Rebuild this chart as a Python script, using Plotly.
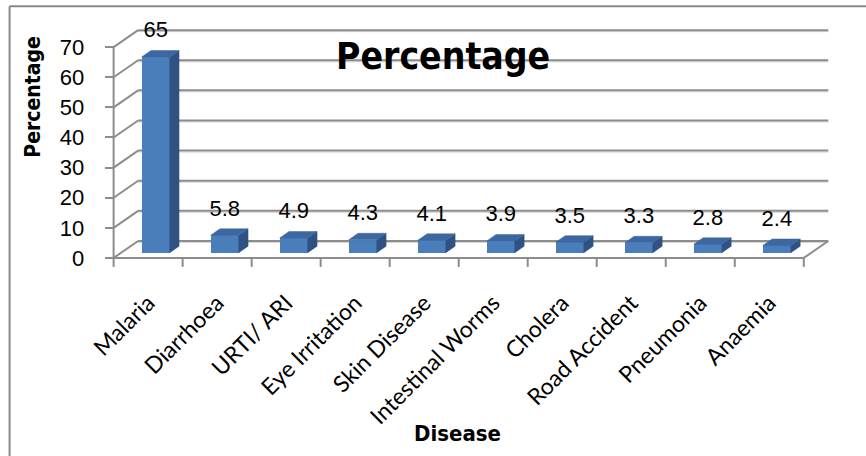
import plotly.graph_objects as go

# ---- data ----
diseases = ["Malaria", "Diarrhoea", "URTI/ ARI", "Eye Irritation", "Skin Disease",
            "Intestinal Worms", "Cholera", "Road Accident", "Pneumonia", "Anaemia"]
percentages = [65, 5.8, 4.9, 4.3, 4.1, 3.9, 3.5, 3.3, 2.8, 2.4]
y_ticks = [0, 10, 20, 30, 40, 50, 60, 70]

# ---- canvas / 3-D box geometry (pixels) ----
W, H = 866, 456
CAT_PX = 69.0        # width of one category on the front edge
UNIT_PX = 3.014      # pixels per percentage point
X0_PX, Y0_PX = 114.0, 258.0   # front-left corner of the floor
XR = (-0.4, 10.8)
YR = (-5.0, 80.0)
L = X0_PX + XR[0] * CAT_PX
R = X0_PX + XR[1] * CAT_PX
T = Y0_PX - YR[1] * UNIT_PX
B = Y0_PX - YR[0] * UNIT_PX

# depth of the box expressed in data units
DEPTH_X = 24.5 / CAT_PX
DEPTH_Y = 17.0 / UNIT_PX
BAR_W = 0.406
BAR_FRONT = 0.31     # bar front plane, fraction of box depth
BAR_DEPTH = 0.38     # bar thickness, fraction of box depth
LABEL_GAP = 25.0 / UNIT_PX

GRID = "#8c8c8c"
GRID_SHADE = "#d4d4d4"
FRONT = "#4a7ebb"
TOP = "#3d67a1"
SIDE = "#2f5282"
TITLE_FONT = "DejaVu Sans Condensed, Liberation Sans, Arial"


def px_x(px):
    return (px - L) / (R - L)


def px_y(py):
    return (B - py) / (B - T)


n = len(diseases)
centers = [i + 0.5 for i in range(n)]
bx = [c + BAR_FRONT * DEPTH_X for c in centers]
base = BAR_FRONT * DEPTH_Y
dx = BAR_DEPTH * DEPTH_X
dy = BAR_DEPTH * DEPTH_Y

fig = go.Figure()

# front faces
fig.add_trace(go.Bar(
    x=bx, y=percentages, base=[base] * n, width=BAR_W,
    marker=dict(color=FRONT, line=dict(width=0)),
    hoverinfo="skip", showlegend=False,
))

# top and side faces as filled polygons
top_x, top_y, side_x, side_y = [], [], [], []
for xc, v in zip(bx, percentages):
    xl, xr = xc - BAR_W / 2, xc + BAR_W / 2
    yt = base + v
    top_x += [xl, xr, xr + dx, xl + dx, xl, None]
    top_y += [yt, yt, yt + dy, yt + dy, yt, None]
    side_x += [xr, xr + dx, xr + dx, xr, xr, None]
    side_y += [base, base + dy, yt + dy, yt, base, None]

fig.add_trace(go.Scatter(x=side_x, y=side_y, mode="lines", fill="toself",
                         fillcolor=SIDE, line=dict(width=0.5, color=SIDE),
                         hoverinfo="skip", showlegend=False))
fig.add_trace(go.Scatter(x=top_x, y=top_y, mode="lines", fill="toself",
                         fillcolor=TOP, line=dict(width=0.5, color=TOP),
                         hoverinfo="skip", showlegend=False))

# value labels above each bar
fig.add_trace(go.Scatter(
    x=bx, y=[base + v + LABEL_GAP for v in percentages],
    mode="text", text=[f"{v:g}" for v in percentages],
    textposition="middle center",
    textfont=dict(family="Liberation Sans, Arial", size=22, color="black"),
    cliponaxis=False, hoverinfo="skip", showlegend=False,
))

# walls, floor and gridlines of the box
shapes = []
gl = dict(color=GRID, width=2)
gs = dict(color=GRID_SHADE, width=1)
shade = 1.5 / UNIT_PX
x_back0, x_back1 = DEPTH_X, n + DEPTH_X
for v in y_ticks:
    # soft shadow under each back wall gridline
    shapes.append(dict(type="line", xref="x", yref="y", layer="below",
                       x0=x_back0, x1=x_back1, y0=v + DEPTH_Y - shade,
                       y1=v + DEPTH_Y - shade, line=gs))
    # back wall gridline
    shapes.append(dict(type="line", xref="x", yref="y", layer="below",
                       x0=x_back0, x1=x_back1, y0=v + DEPTH_Y, y1=v + DEPTH_Y, line=gl))
    # side wall diagonal
    shapes.append(dict(type="line", xref="x", yref="y", layer="below",
                       x0=0, x1=DEPTH_X, y0=v, y1=v + DEPTH_Y, line=gl))
# floor front and right edges, vertical value axis line
shapes.append(dict(type="line", xref="x", yref="y", layer="below",
                   x0=0, x1=n, y0=0, y1=0, line=gl))
shapes.append(dict(type="line", xref="x", yref="y", layer="below",
                   x0=n, x1=n + DEPTH_X, y0=0, y1=DEPTH_Y, line=gl))
shapes.append(dict(type="line", xref="x", yref="y", layer="below",
                   x0=0, x1=0, y0=0, y1=y_ticks[-1], line=gl))
# category boundary ticks
for i in range(n + 1):
    shapes.append(dict(type="line", xref="x", yref="y", layer="below",
                       x0=i, x1=i, y0=0, y1=-9 / UNIT_PX, line=gl))

# chart border (top and left edges)
bd = dict(color="#8a8a8a", width=2)
shapes.append(dict(type="line", xref="paper", yref="paper",
                   x0=px_x(10), x1=px_x(W + 5), y0=px_y(6), y1=px_y(6), line=bd))
shapes.append(dict(type="line", xref="paper", yref="paper",
                   x0=px_x(10), x1=px_x(10), y0=px_y(6), y1=px_y(H + 5), line=bd))

annotations = [
    dict(text="<b>Percentage</b>", xref="paper", yref="paper",
         x=px_x(443), y=px_y(56), xanchor="center", yanchor="middle", showarrow=False,
         font=dict(family=TITLE_FONT, size=37, color="black")),
    dict(text="<b>Percentage</b>", xref="paper", yref="paper",
         x=px_x(33), y=px_y(97), xanchor="center", yanchor="middle", showarrow=False,
         textangle=-90,
         font=dict(family=TITLE_FONT, size=21, color="black")),
    dict(text="<b>Disease</b>", xref="paper", yref="paper",
         x=px_x(458), y=px_y(434), xanchor="center", yanchor="middle", showarrow=False,
         font=dict(family=TITLE_FONT, size=22, color="black")),
]

fig.update_layout(
    width=W, height=H,
    margin=dict(l=L, r=W - R, t=T, b=H - B, pad=0),
    paper_bgcolor="white", plot_bgcolor="white",
    shapes=shapes, annotations=annotations,
    showlegend=False, bargap=0,
    xaxis=dict(range=list(XR), anchor="free", position=px_y(Y0_PX),
               tickmode="array", tickvals=centers, ticktext=diseases,
               tickangle=-45, ticks="", showline=False, showgrid=False,
               zeroline=False, automargin=False, ticklabelstandoff=26,
               tickfont=dict(family="Lato, Open Sans", size=23, color="black")),
    yaxis=dict(range=list(YR), anchor="free", position=px_x(X0_PX),
               tickmode="array", tickvals=y_ticks, ticks="outside", ticklen=9,
               tickwidth=2, tickcolor=GRID, showline=False, showgrid=False,
               zeroline=False, automargin=False, ticklabelstandoff=16,
               tickfont=dict(family="Liberation Sans, Arial", size=22, color="black")),
)

fig.write_html("out.html")
